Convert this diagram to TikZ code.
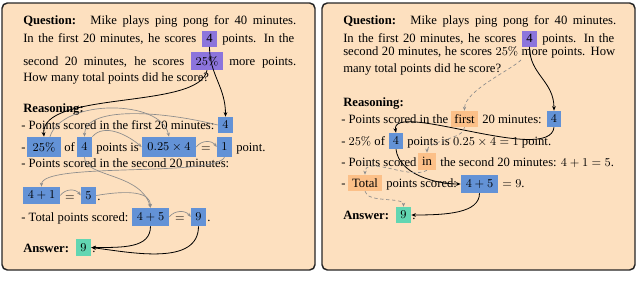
\documentclass[tikz,border=0pt]{standalone}
\usepackage[no-math]{fontspec}
\setmainfont{Liberation Serif}
\usetikzlibrary{arrows.meta}
\definecolor{peach}{RGB}{253,224,191}
\definecolor{bblue}{RGB}{99,146,214}
\definecolor{bpurple}{RGB}{140,116,220}
\definecolor{bgreen}{RGB}{98,214,178}
\definecolor{borange}{RGB}{252,192,136}
\definecolor{garrc}{RGB}{140,140,140}
\newcommand\fsz{\fontsize{9.5}{11}\selectfont}
\newcommand\J[2]{\makebox[#1][s]{#2}}
\tikzset{
  txt/.style={inner sep=0pt, anchor=base west, font=\fsz},
  ctxt/.style={inner sep=0pt, anchor=base, font=\fsz},
  bx/.style={inner sep=0pt, anchor=center, font=\fsz},
  bl/.style={bx, fill=bblue},
  pu/.style={bx, fill=bpurple},
  gr/.style={bx, fill=bgreen},
  orb/.style={bx, fill=borange},
  panel/.style={draw=black!85, line width=1.1pt, fill=peach, rounded corners=4pt},
  garr/.style={draw=garrc, line width=0.5pt, -{Stealth[length=3pt,width=2.4pt]}},
  karr/.style={draw=black, line width=0.6pt, -{Stealth[length=3.5pt,width=2.8pt]}},
  darr/.style={garr, dash pattern=on 2.5pt off 2pt},
}
\begin{document}
\begin{tikzpicture}[x=0.75pt,y=-0.75pt]
\useasboundingbox (0,0) rectangle (640,289);
\path[panel] (2,3) rectangle (315,270);
\path[panel] (322,3) rectangle (635,270);

% ---------------- Left panel ----------------
\node[txt] (lq) at (23,25) {\textbf{Question:}};
\node[txt] (lq1) at (90,25) {\J{154.5pt}{Mike plays ping pong for 40 minutes.}};
\node[txt] (lq2) at (23,42.5) {\J{129.75pt}{In the first 20 minutes, he scores}};
\node[pu, minimum width=11.25pt, minimum height=12pt] (q4L) at (209.5,38.5) {4};
\node[txt] (lq2b) at (222,42.5) {\J{54pt}{points. In the}};
\node[txt] (lq3) at (23,65.5) {\J{120.75pt}{second 20 minutes, he scores}};
\node[pu, minimum width=24pt, minimum height=13.5pt] (q25L) at (207,61) {$25\%$};
\node[txt] (lq3b) at (229,65.5) {\J{50.25pt}{more points.}};
\node[txt] (lq4) at (23,81) {How many total points did he score?};

\node[txt] (lr) at (23,112) {\textbf{Reasoning:}};
\node[txt] (lr1) at (21,129.5) {- Points scored in the first 20 minutes:};
\node[bl, minimum width=11.25pt, minimum height=12pt] (r4a) at (225.5,125) {$4$};

\node[txt] (lr2a) at (21,151.5) {-};
\node[bl, minimum width=25.5pt, minimum height=15pt] (r25) at (44,147) {$25\%$};
\node[txt] (lr2b) at (64,151.5) {of};
\node[bl, minimum width=11.25pt, minimum height=15pt] (r4b) at (84.5,147) {$4$};
\node[txt] (lr2c) at (96,151.5) {points is};
\node[bl, minimum width=40.5pt, minimum height=15pt] (r025) at (169,147) {$0.25\times 4$};
\node[ctxt] (lr2d) at (206,151.5) {$=$};
\node[bl, minimum width=11.25pt, minimum height=15pt] (r1) at (224.5,147) {$1$};
\node[txt] (lr2e) at (236,151.5) {point.};

\node[txt] (lr3) at (21,167) {- Points scored in the second 20 minutes:};
\node[bl, minimum width=27.75pt, minimum height=12.75pt] (r41) at (41.5,195.5) {$4+1$};
\node[ctxt] (lr4a) at (70,200) {$=$};
\node[bl, minimum width=11.25pt, minimum height=12.75pt] (r5) at (88.5,195.5) {$5$};
\node[txt] (lr4b) at (97,200) {.};

\node[txt] (lr5) at (21,221.5) {- Total points scored:};
\node[bl, minimum width=27.75pt, minimum height=13.5pt] (r45) at (150.5,217) {$4+5$};
\node[ctxt] (lr5a) at (180,221.5) {$=$};
\node[bl, minimum width=11.25pt, minimum height=13.5pt] (r9) at (198.5,217) {$9$};
\node[txt] (lr5b) at (207,221.5) {.};

\node[txt] (la) at (23,252) {\textbf{Answer:}};
\node[gr, minimum width=11.25pt, minimum height=12.75pt] (a9) at (83.5,247.5) {$9$};
\node[txt] (lab) at (92,252) {.};

% left arrows (black)
\draw[karr] (q4L.south) .. controls +(0,28) and +(0,-30) .. (r4a.north);
\draw[karr] (q25L.south) .. controls +(-7,40) and +(-4,-47) .. (r25.north);
\draw[karr] (r45.south) .. controls +(0,22) and +(32,0) .. (a9.east);
\draw[karr] (r9.south) .. controls +(0,40) and +(40,5) .. (a9.east);
% left arrows (gray)
\draw[garr] (r4a.west) .. controls +(-60,-15) and +(0,-30) .. (r4b.north);
\draw[garr] (r25.60) .. controls +(12,-38) and +(-8,-38) .. (r025.north);
\draw[garr] (r4b.north east) .. controls +(12,-14) and +(-14,-12) .. (r025.west);
\draw[garr] (r025.east) .. controls +(5,-7) and +(-5,-7) .. (r1.west);
\draw[garr] (r1.south) .. controls +(-10,20) and +(0,-25) .. (r41.north);
\draw[garr] (r4b.south) .. controls +(0,20) and +(-10,-35) .. (r45.north);
\draw[garr] (r41.east) .. controls +(5,-7) and +(-5,-7) .. (r5.west);
\draw[garr] (r5.east) .. controls +(35,-6) and +(0,-15) .. (r45.north);
\draw[garr] (r45.east) .. controls +(5,-7) and +(-5,-7) .. (r9.west);

% ---------------- Right panel ----------------
\node[txt] (rq) at (343,25) {\textbf{Question:}};
\node[txt] (rq1) at (410,25) {\J{154.5pt}{Mike plays ping pong for 40 minutes.}};
\node[txt] (rq2) at (343,42.5) {\J{129.75pt}{In the first 20 minutes, he scores}};
\node[pu, minimum width=11.25pt, minimum height=12pt] (q4R) at (529.5,38.5) {4};
\node[txt] (rq2b) at (542,42.5) {\J{54pt}{points. In the}};
\node[txt] (rq3) at (343,55.5) {\J{204pt}{second 20 minutes, he scores $25\%$ more points. How}};
\node[txt] (rq4) at (343,72) {many total points did he score?};
\coordinate (q25R) at (521,60);

\node[txt] (rr) at (343,106) {\textbf{Reasoning:}};
\node[txt] (rr1) at (341,123) {- Points scored in the};
\node[orb, minimum width=20.25pt, minimum height=12pt] (Rfirst) at (464.5,119) {first};
\node[txt] (rr1b) at (482,123) {20 minutes:};
\node[bl, minimum width=10.5pt, minimum height=12pt] (Rb4a) at (554,119) {$4$};

\node[txt] (rr2) at (341,145.5) {- $25\%$ of};
\node[bl, minimum width=10.5pt, minimum height=12pt] (Rb4b) at (396,141) {$4$};
\node[txt] (rr2b) at (407,145.5) {points is $0.25\times 4=1$ point.};

\node[txt] (rr3) at (341,166) {- Points scored};
\node[orb, minimum width=13.5pt, minimum height=12.75pt] (Rin) at (427,161.5) {in};
\node[txt] (rr3b) at (440,166) {the second 20 minutes: $4+1=5$.};

\node[txt] (rr4) at (341,187.5) {-};
\node[orb, minimum width=25.5pt, minimum height=12pt] (RTot) at (365,183) {Total};
\node[txt] (rr4b) at (386,187.5) {points scored:};
\node[bl, minimum width=27.75pt, minimum height=13.5pt] (R45) at (479.5,184) {$4+5$};
\node[txt] (rr4c) at (502,187.5) {$=9$.};

\node[txt] (ra) at (343,219.5) {\textbf{Answer:}};
\node[gr, minimum width=11.25pt, minimum height=12pt] (Ra9) at (403.5,215) {$9$};
\node[txt] (rab) at (412,219.5) {.};

% right arrows (black)
\draw[karr] (q4R.south) .. controls +(0,28) and +(0,-30) .. (Rb4a.north);
\draw[karr] (Rb4a.south) .. controls +(-4,38) and +(-6,-33) .. (Rb4b.north);
\draw[karr] (Rb4b.south) .. controls +(3,25) and +(-25,0) .. (R45.west);
\draw[karr] (R45.south) .. controls +(0,20) and +(35,0) .. (Ra9.east);
% right arrows (gray dashed)
\draw[darr] (q25R) .. controls +(-10,10) and +(0,-20) .. (Rfirst.north);
\draw[darr] (Rfirst.south) .. controls +(0,12) and +(0,-12) .. (Rin.north);
\draw[darr] (Rin.south) .. controls +(-17,10) and +(0,-20) .. (RTot.north);
\draw[darr] (RTot.south) .. controls +(2,12) and +(0,-10) .. (Ra9.north);
\end{tikzpicture}
\end{document}
